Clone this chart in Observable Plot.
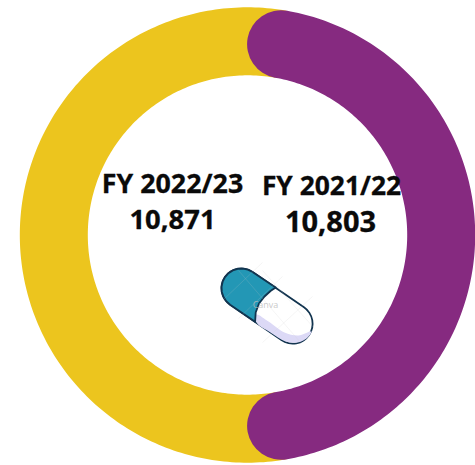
<!DOCTYPE html>
<html>
<head>
<meta charset="utf-8">
<script src="https://cdn.jsdelivr.net/npm/d3@7"></script>
<script src="https://cdn.jsdelivr.net/npm/@observablehq/plot@0.6"></script>
<style>html,body{margin:0;padding:0;background:#fff}svg{display:block}</style>
</head>
<body>
<div id="chart"></div>
<script>
const years = ["FY 2021/22", "FY 2022/23"];
const counts = [10803, 10871];
const colors = ["#862A80", "#ECC51E"];
const labelX = [331, 172];
const valueX = [330, 172];
const titleY = [186, 184];
const valueY = [222, 220];
const titleSize = [26.4, 26.8];
const valueSize = [29, 27.4];

const cx = 247, cy = 234.5, midR = 193.7, band = 68;
const inset = 9.7; // degrees taken by the rounded end of the leading slice
const total = d3.sum(counts);
const span = counts[0] / total * 360;
const start = (180 - span) / 2;   // leading slice sits centred on the right-hand side
const end = start + span;

function arc(a0, a1) {
  const n = Math.max(2, Math.ceil(Math.abs(a1 - a0)));
  return d3.range(n + 1).map(i => {
    const t = (a0 + (a1 - a0) * i / n) * Math.PI / 180;
    return {x: cx + midR * Math.sin(t), y: cy - midR * Math.cos(t)};
  });
}

// capsule icon
const c1 = [240.8, 287.8], c2 = [292.2, 323.2];
const capR = 19.8;
const capsule = [{x: c1[0], y: c1[1]}, {x: c2[0], y: c2[1]}];
const tealShape = d3.range(0, 13).map(i => {
  const t = (-55.5 - i * 15) * Math.PI / 180;
  return {x: c1[0] + capR * Math.cos(t), y: c1[1] + capR * Math.sin(t)};
}).concat([
  {x: 254.6, y: 321.3}, {x: 255.2, y: 312}, {x: 258.5, y: 303},
  {x: 264, y: 296}, {x: 270, y: 290.5}, {x: 275.2, y: 287.1}
]);
const shade = [[256, 314], [268, 321], [284, 332], [298, 335], [311, 331], [306, 338],
  [297, 342], [285, 341], [270, 332], [256, 322]].map(([x, y]) => ({x, y}));
const texture = [[[222, 300], [262, 262]], [[238, 318], [282, 276]], [[262, 342], [312, 296]],
  [[238, 270], [300, 342]], [[262, 270], [314, 328]]]
  .map(([a, b]) => ({x1: a[0], y1: a[1], x2: b[0], y2: b[1]}));

const line = (data, o) => Plot.line(data, {x: "x", y: "y", ...o});
const font = "'Open Sans', sans-serif";

const plot = Plot.plot({
  width: 475, height: 465,
  margin: 0,
  x: {domain: [0, 475], range: [0, 475], axis: null},
  y: {domain: [0, 465], range: [0, 465], axis: null},
  marks: [
    line(arc(end - inset, 360 + start + inset), {stroke: colors[1], strokeWidth: band, strokeLinecap: "butt"}),
    line(arc(start + inset, end - inset), {stroke: colors[0], strokeWidth: band, strokeLinecap: "round"}),
    line(capsule, {stroke: "#12344F", strokeWidth: 41.6, strokeLinecap: "round"}),
    line(capsule, {stroke: "#ffffff", strokeWidth: 38, strokeLinecap: "round"}),
    line(shade, {fill: "#DCD9F6", stroke: "none", curve: "catmull-rom-closed"}),
    line(tealShape, {fill: "#2397B5", stroke: "#12344F", strokeWidth: 1.8, curve: "linear-closed"}),
    Plot.link(texture, {x1: "x1", y1: "y1", x2: "x2", y2: "y2", stroke: "#c8c8c8", strokeOpacity: 0.3, strokeWidth: 0.6}),
    Plot.text(["Canva"], {x: [265], y: [305], text: d => d, fontSize: 9, fontFamily: font, fill: "#bbbbbb", fillOpacity: 0.8}),
    ...years.map((d, i) => Plot.text([d], {x: [labelX[i]], y: [titleY[i]], text: t => t,
      fontSize: titleSize[i], fontWeight: 700, fontFamily: font, fill: "#0a0a0a", stroke: "#0a0a0a", strokeWidth: 0.3})),
    ...counts.map((d, i) => Plot.text([d], {x: [valueX[i]], y: [valueY[i]], text: t => d3.format(",")(t),
      fontSize: valueSize[i], fontWeight: 700, fontFamily: font, fill: "#0a0a0a", stroke: "#0a0a0a", strokeWidth: 0.3}))
  ]
});
document.getElementById("chart").append(plot);
</script>
</body>
</html>
